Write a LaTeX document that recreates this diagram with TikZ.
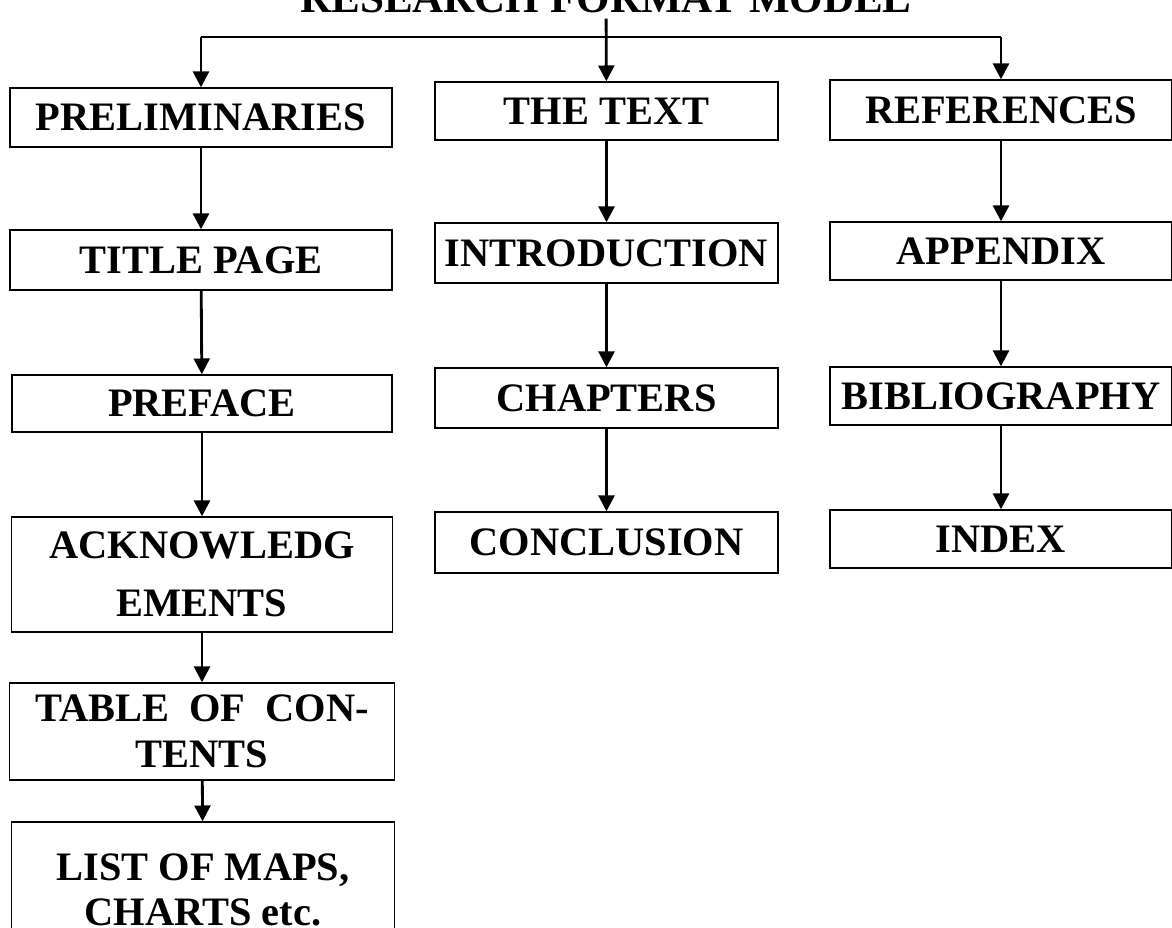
\documentclass[tikz,border=0pt]{standalone}
\usepackage{fontspec}
\setmainfont{Liberation Serif}
\usetikzlibrary{arrows.meta}
\tikzset{
  caja/.style={draw, line width=0.8pt, inner sep=0pt, align=center,
    font=\fontsize{23}{33}\selectfont\bfseries},
  tam/.style 2 args={minimum width=#1*0.02cm, minimum height=#2*0.02cm},
  flecha/.style={line width=1.6pt, -{Triangle[length=9pt,width=9pt]}}
}
\begin{document}
\begin{tikzpicture}[x=0.02cm, y=-0.02cm]  % coordenadas en pixeles
  \useasboundingbox (0,0) rectangle (1172,927);

  % Titulo (cortado arriba)
  \node[anchor=base, font=\fontsize{24.5}{30}\selectfont\bfseries] (titulo) at (606,12) {RESEARCH FORMAT MODEL};

  % Columna 1
  \node[caja, tam={382}{59}]  (prel) at (201,117.5) {PRELIMINARIES};
  \node[caja, tam={382}{60}]  (tpag) at (201,260)   {TITLE PAGE};
  \node[caja, tam={380}{57}]  (pref) at (202,403.5) {PREFACE};
  \node[caja, tam={381}{115}] (ackn) at (202,574.5) {ACKNOWLEDG\\EMENTS};
  \node[caja, tam={385}{97}, font=\fontsize{23}{26}\selectfont\bfseries]
    (tabl) at (202,731.5) {TABLE\ \ OF\ \ CON-\\TENTS};
  \node[caja, tam={383}{136}, font=\fontsize{23}{25.5}\selectfont\bfseries]
    (list) at (203,890) {LIST OF MAPS,\\CHARTS etc.};

  % Columna 2
  \node[caja, tam={343}{58}] (text) at (606.5,111)   {THE TEXT};
  \node[caja, tam={343}{60}] (intr) at (606.5,253)   {INTRODUCTION};
  \node[caja, tam={343}{60}] (chap) at (606.5,398)   {CHAPTERS};
  \node[caja, tam={343}{61}] (conc) at (606.5,542.5) {CONCLUSION};

  % Columna 3
  \node[caja, tam={342}{60}] (refs) at (1001,110) {REFERENCES};
  \node[caja, tam={342}{58}] (appx) at (1001,251) {APPENDIX};
  \node[caja, tam={342}{58}] (bibl) at (1001,396) {BIBLIOGRAPHY};
  \node[caja, tam={342}{58}] (indx) at (1001,539) {INDEX};

  % Ramas superiores
  \coordinate (hub) at (606,37);
  \draw[line width=1.4pt] (prel.north |- hub) -- (refs.north |- hub);
  \draw[flecha] (titulo) -- (text);
  \draw[flecha] (prel.north |- hub) -- (prel);
  \draw[flecha] (refs.north |- hub) -- (refs);

  % Flechas verticales
  \foreach \a/\b in {prel/tpag, tpag/pref, pref/ackn, ackn/tabl, tabl/list,
                     text/intr, intr/chap, chap/conc,
                     refs/appx, appx/bibl, bibl/indx} {
    \draw[flecha] (\a) -- (\b);
  }
\end{tikzpicture}
\end{document}
